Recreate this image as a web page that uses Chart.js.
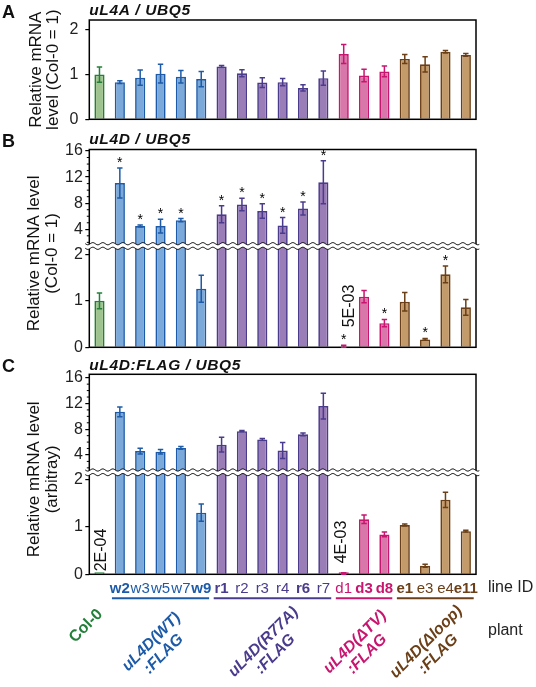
<!DOCTYPE html>
<html>
<head>
<meta charset="utf-8">
<script src="https://cdn.jsdelivr.net/npm/chart.js@4.4.1/dist/chart.umd.min.js"></script>
<style>
  html, body { margin: 0; padding: 0; background: #fff; }
  #wrap { position: relative; width: 536px; height: 687px; overflow: hidden; }
  .panel { position: absolute; left: 0; width: 536px; }
</style>
</head>
<body>
<div id="wrap">
  <div class="panel" style="top:0;height:140px"><canvas id="chartA"></canvas></div>
  <div class="panel" style="top:128px;height:240px"><canvas id="chartB"></canvas></div>
  <div class="panel" style="top:355px;height:332px"><canvas id="chartC"></canvas></div>
</div>
<script>
const FONT = '"Liberation Sans", Arial, Helvetica, sans-serif';
Chart.defaults.font.family = FONT;
Chart.defaults.color = '#222';

// categories
const lineIds = ['Col-0', 'w2', 'w3', 'w5', 'w7', 'w9', 'r1', 'r2', 'r3', 'r4', 'r6', 'r7', 'd1', 'd3', 'd8', 'e1', 'e3', 'e4', 'e11'];
const groupOf = ['col', 'wt', 'wt', 'wt', 'wt', 'wt', 'r77a', 'r77a', 'r77a', 'r77a', 'r77a', 'r77a', 'dtv', 'dtv', 'dtv', 'dloop', 'dloop', 'dloop', 'dloop'];
const boldIds = ['w2', 'w9', 'r1', 'r6', 'd3', 'd8', 'e1', 'e11'];
const plantGroups = ['col', 'wt', 'r77a', 'dtv', 'dloop'];
const plantNames = [['Col-0'], ['uL4D(WT)', ':FLAG'], ['uL4D(R77A)', ':FLAG'], ['uL4D(\u0394TV)', ':FLAG'], ['uL4D(\u0394loop)', ':FLAG']];

// A: uL4A / UBQ5
const uL4A    = [1.00, 0.83, 0.93, 1.02, 0.95, 0.90, 1.18, 1.03, 0.82, 0.83, 0.70, 0.92, 1.46, 0.98, 1.07, 1.35, 1.23, 1.51, 1.44];
const uL4AErr = [0.17, 0.03, 0.17, 0.21, 0.14, 0.17, 0.02, 0.08, 0.11, 0.08, 0.07, 0.16, 0.21, 0.14, 0.12, 0.10, 0.17, 0.03, 0.03];

// B: uL4D / UBQ5
const uL4D     = [1.00, 11.1, 4.5, 4.5, 5.4, 1.26, 6.3, 7.8, 6.8, 4.6, 7.2, 11.2, 0.005, 1.09, 0.52, 0.98, 0.17, 1.57, 0.86];
const uL4DErr  = [0.17, 2.3, 0.15, 1.05, 0.25, 0.29, 1.3, 0.95, 1.1, 1.2, 1.0, 3.3, 0.04, 0.13, 0.08, 0.20, 0.02, 0.18, 0.17];
const uL4DStar = [0, 1, 1, 1, 1, 0, 1, 1, 1, 1, 1, 1, 1, 0, 1, 0, 1, 1, 0];
const uL4DNotes = [[12, '5E-03']];

// C: uL4D:FLAG / UBQ5
const uL4DF     = [0.0002, 10.7, 4.6, 4.5, 5.1, 1.30, 5.6, 7.7, 6.4, 4.7, 7.2, 11.6, 0.004, 1.16, 0.84, 1.04, 0.18, 1.57, 0.91];
const uL4DFErr  = [0, 0.75, 0.45, 0.35, 0.2, 0.18, 1.15, 0.1, 0.15, 1.25, 0.2, 2.0, 0.03, 0.09, 0.05, 0.02, 0.03, 0.16, 0.02];
const uL4DFNotes = [[0, '2E-04'], [12, '4E-03']];

// tick labels
const ticksA = [0, 1, 2];
const ticksLo = [0, 1, 2];
const ticksHi = [4, 8, 12, 16];

const BREAK = 2;
const FILL = { col: '#9fc38e', wt: '#7aa9da', r77a: '#9a7cb7', dtv: '#d877a9', dloop: '#c39b6b' };
const EDGE = { col: '#23803a', wt: '#1d5ba8', r77a: '#4b3b8c', dtv: '#c8156f', dloop: '#6b3f17' };
const fills = groupOf.map(g => FILL[g]);
const edges = groupOf.map(g => EDGE[g]);

function drawBreak(ctx, x0, x1, y) {
  const amp = 1.1, per = 10, gap = 2.3;
  const wave = (x, off) => y + off + amp * Math.sin((x - x0) / per * 2 * Math.PI);
  ctx.beginPath();
  for (let x = x0; x <= x1; x += 1) ctx.lineTo(x, wave(x, -gap));
  for (let x = x1; x >= x0; x -= 1) ctx.lineTo(x, wave(x, gap));
  ctx.closePath();
  ctx.fillStyle = '#fff';
  ctx.fill();
  ctx.strokeStyle = '#000';
  ctx.lineWidth = 1;
  [-gap, gap].forEach(off => {
    ctx.beginPath();
    for (let x = x0; x <= x1; x += 1) ctx.lineTo(x, wave(x, off));
    ctx.stroke();
  });
}

// frame, break, error bars, stars and all the loose text
function makeDecor(cfg) {
  return {
    id: 'decor',
    afterDatasetsDraw(chart) {
      const ctx = chart.ctx, a = chart.chartArea, xs = chart.scales.x;
      const hi = chart.scales.yHi, lo = chart.scales.yLo || chart.scales.y;
      ctx.save();
      ctx.strokeStyle = '#000';
      ctx.lineWidth = 1.5;
      ctx.strokeRect(a.left, a.top, a.right - a.left, a.bottom - a.top);
      if (hi) {
        ctx.lineWidth = 1;
        for (let v = Math.ceil(hi.min); v <= hi.max; v++) {
          if (v % 4 === 0) continue;
          const y = hi.getPixelForValue(v);
          ctx.beginPath(); ctx.moveTo(a.left - 2.5, y); ctx.lineTo(a.left, y); ctx.stroke();
        }
        drawBreak(ctx, a.left - 4, a.right + 4, hi.bottom);
      }
      cfg.values.forEach((v, i) => {
        const e = cfg.errors[i];
        const s = hi && v > BREAK ? hi : lo;
        const x = xs.getPixelForValue(i);
        const yTop = s.getPixelForValue(v + e);
        const yBot = s.getPixelForValue(Math.max(v - e, 0));
        if (e > 0) {
          ctx.strokeStyle = edges[i];
          ctx.lineWidth = 1.5;
          ctx.beginPath();
          ctx.moveTo(x, yTop); ctx.lineTo(x, yBot);
          ctx.moveTo(x - 2.7, yTop); ctx.lineTo(x + 2.7, yTop);
          ctx.moveTo(x - 2.7, yBot); ctx.lineTo(x + 2.7, yBot);
          ctx.stroke();
        }
        if (cfg.stars && cfg.stars[i]) {
          ctx.fillStyle = '#000';
          ctx.font = '14px ' + FONT;
          ctx.textAlign = 'center';
          ctx.textBaseline = 'alphabetic';
          ctx.fillText('*', x, yTop - 1);
        }
      });
      ctx.restore();
    },
    afterDraw(chart) {
      const ctx = chart.ctx, a = chart.chartArea, xs = chart.scales.x;
      const lo = chart.scales.yLo || chart.scales.y;
      ctx.save();
      ctx.fillStyle = '#111';
      ctx.textAlign = 'left';
      ctx.textBaseline = 'alphabetic';
      ctx.font = 'bold 18px ' + FONT;
      ctx.fillText(cfg.letter, 2, cfg.letterY);
      ctx.font = 'italic bold 15.5px ' + FONT;
      ctx.letterSpacing = '0.6px';
      ctx.fillText(cfg.title, a.left, cfg.titleY);
      ctx.letterSpacing = '0px';

      ctx.font = '17px ' + FONT;
      ctx.textAlign = 'center';
      ctx.textBaseline = 'middle';
      const yc = (a.top + a.bottom) / 2 + cfg.yTitleShift;
      cfg.yTitle.forEach((line, k) => {
        ctx.save();
        ctx.translate(cfg.yTitleX[k], yc);
        ctx.rotate(-Math.PI / 2);
        ctx.fillText(line, 0, 0);
        ctx.restore();
      });

      (cfg.notes || []).forEach(([i, text], k) => {
        const [dx, lift] = cfg.noteOffsets[k];
        ctx.save();
        ctx.font = '16px ' + FONT;
        ctx.textAlign = 'left';
        ctx.textBaseline = 'middle';
        ctx.translate(xs.getPixelForValue(i) + dx, lo.getPixelForValue(0) - lift);
        ctx.rotate(-Math.PI / 2);
        ctx.fillText(text, 0, 0);
        ctx.restore();
      });

      if (cfg.plants) {
        const half = (xs.getPixelForValue(1) - xs.getPixelForValue(0)) / 2;
        plantGroups.forEach((g, k) => {
          const idx = groupOf.map((gg, i) => gg === g ? i : -1).filter(i => i >= 0);
          const x0 = xs.getPixelForValue(idx[0]), x1 = xs.getPixelForValue(idx[idx.length - 1]);
          if (g !== 'col') {
            ctx.strokeStyle = EDGE[g];
            ctx.lineWidth = 2;
            ctx.beginPath();
            ctx.moveTo(x0 - half + 2.3, 243.3);
            ctx.lineTo(x1 + half - 2.3, 243.3);
            ctx.stroke();
          }
          const lines = plantNames[k];
          ctx.save();
          ctx.fillStyle = EDGE[g];
          ctx.font = (g === 'col' ? 'bold ' : 'italic bold ') + '16px ' + FONT;
          ctx.textAlign = 'center';
          ctx.textBaseline = 'middle';
          ctx.translate((x0 + x1) / 2 + (g === 'col' ? -13.5 : -3), g === 'col' ? 271 : 293);
          ctx.rotate(-Math.PI / 4);
          lines.forEach((line, j) => ctx.fillText(line, 0, (j - (lines.length - 1) / 2) * 17));
          ctx.restore();
        });
        ctx.fillStyle = '#222';
        ctx.font = '16px ' + FONT;
        ctx.textAlign = 'left';
        ctx.textBaseline = 'alphabetic';
        ctx.fillText('line ID', 488, 236.7);
        ctx.fillText('plant', 488, 280);
      }
      ctx.restore();
    }
  };
}

const yTickFont = { size: 16 };
function yGrid() {
  return { display: true, drawOnChartArea: false, drawTicks: true, tickLength: 4, color: '#000', lineWidth: 1.2 };
}
function setTicks(list) {
  return s => { s.ticks = list.map(v => ({ value: v })); };
}

// Panel A
new Chart(document.getElementById('chartA'), {
  type: 'bar',
  data: {
    labels: lineIds,
    datasets: [{
      data: uL4A,
      backgroundColor: fills, borderColor: edges, borderWidth: 1.7, borderSkipped: 'start',
      barPercentage: 0.5, categoryPercentage: 1
    }]
  },
  options: {
    animation: false, responsive: true, maintainAspectRatio: false,
    layout: { padding: { left: 0, right: 60, top: 20, bottom: 20.7 } },
    plugins: { legend: { display: false }, tooltip: { enabled: false } },
    scales: {
      x: { display: false },
      y: {
        min: 0, max: 2.22,
        afterBuildTicks: setTicks(ticksA),
        ticks: { font: yTickFont, color: '#222', padding: 7, autoSkip: false },
        grid: yGrid(), border: { display: false },
        afterFit: s => { s.width = 89.3; }
      }
    }
  },
  plugins: [makeDecor({
    values: uL4A, errors: uL4AErr, letter: 'A', letterY: 18.3, title: 'uL4A / UBQ5', titleY: 14.5,
    yTitle: ['Relative mRNA', 'level (Col-0 = 1)'], yTitleX: [36, 53], yTitleShift: 0
  })]
});

function brokenChart(id, values, errors, axis, extra, decorCfg) {
  return new Chart(document.getElementById(id), {
    type: 'bar',
    data: {
      labels: lineIds,
      datasets: [{
        data: values.map(v => Math.min(v, axis.loMax)),
        yAxisID: 'yLo', grouped: false, minBarLength: axis.minBar,
        backgroundColor: fills, borderColor: edges, borderWidth: 1.7, borderSkipped: 'start',
        barPercentage: 0.5, categoryPercentage: 1
      }, {
        data: values.map(v => v > BREAK ? v : null),
        yAxisID: 'yHi', grouped: false, base: axis.hiMin,
        backgroundColor: fills, borderColor: edges, borderWidth: 1.7, borderSkipped: 'start',
        barPercentage: 0.5, categoryPercentage: 1
      }]
    },
    options: {
      animation: false, responsive: true, maintainAspectRatio: false,
      layout: { padding: axis.padding },
      plugins: { legend: { display: false }, tooltip: { enabled: false } },
      scales: {
        x: extra.x,
        yHi: {
          type: 'linear', position: 'left', stack: 'brk', stackWeight: axis.hiWeight, weight: 2,
          min: axis.hiMin, max: axis.hiMax,
          afterBuildTicks: setTicks(ticksHi),
          ticks: { font: yTickFont, color: '#222', padding: 2.5, autoSkip: false },
          grid: yGrid(), border: { display: false },
          afterFit: s => { s.width = 89.3; }
        },
        yLo: {
          type: 'linear', position: 'left', stack: 'brk', stackWeight: axis.loWeight, weight: 1,
          min: 0, max: axis.loMax,
          afterBuildTicks: setTicks(ticksLo),
          ticks: { font: yTickFont, color: '#222', padding: 2.5, autoSkip: false },
          grid: yGrid(), border: { display: false },
          afterFit: s => { s.width = 89.3; }
        }
      }
    },
    plugins: [makeDecor(decorCfg)]
  });
}

// Panel B
brokenChart('chartB', uL4D, uL4DErr,
  { loMax: 2.18, hiMin: 1.44, hiMax: 16.23, hiWeight: 96.5, loWeight: 101.3, minBar: 0,
    padding: { left: 0, right: 60, top: 21.5, bottom: 20.7 } },
  { x: { display: false } },
  { values: uL4D, errors: uL4DErr, stars: uL4DStar, letter: 'B', letterY: 19.3, title: 'uL4D / UBQ5', titleY: 16.3,
    yTitle: ['Relative mRNA level', '(Col-0 = 1)'], yTitleX: [34, 52], yTitleShift: 5,
    notes: uL4DNotes, noteOffsets: [[6, 20]] });

// Panel C
brokenChart('chartC', uL4DF, uL4DFErr,
  { loMax: 2.15, hiMin: 1.31, hiMax: 16.53, hiWeight: 98, loWeight: 102, minBar: 2,
    padding: { left: 0, right: 60, top: 19.3, bottom: 82.7 } },
  { x: {
      grid: { display: false }, border: { display: false },
      ticks: {
        autoSkip: false, maxRotation: 0, minRotation: 0, padding: -2,
        callback: (v, i) => i === 0 ? '' : lineIds[i],
        color: c => edges[c.index],
        font: c => ({ size: 15, weight: boldIds.includes(lineIds[c.index]) ? 'bold' : 'normal' })
      },
      afterFit: s => { s.height = 30; }
  } },
  { values: uL4DF, errors: uL4DFErr, letter: 'C', letterY: 17, title: 'uL4D:FLAG / UBQ5', titleY: 15,
    yTitle: ['Relative mRNA level', '(arbitray)'], yTitleX: [34, 52], yTitleShift: 5,
    notes: uL4DFNotes, noteOffsets: [[2.5, 3], [-1.7, 11]], plants: true });
</script>
</body>
</html>
